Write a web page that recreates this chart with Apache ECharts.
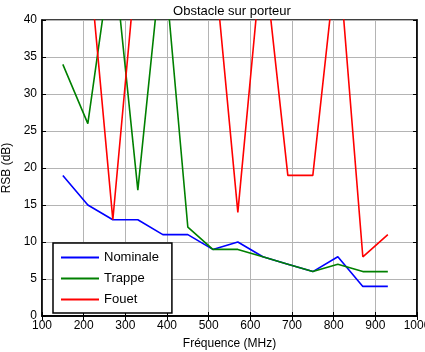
<!DOCTYPE html>
<html><head><meta charset="utf-8">
<script src="https://cdn.jsdelivr.net/npm/echarts@6/dist/echarts.min.js"></script>
<style>html,body{margin:0;padding:0;background:#fff}#c{width:425px;height:352px}</style>
</head><body><div id="c"></div>
<script>
var freqs = [150, 210, 270, 330, 390, 450, 510, 570, 630, 690, 750, 810, 870, 930];
var nominale = [19, 15, 13, 13, 11, 11, 9, 10, 8, 7, 6, 8, 4, 4];
var trappe = [34, 26, 50, 17, 50, 12, 9, 9, 8, 7, 6, 7, 6, 6];
var fouet = [50, 50, 13, 50, 50, 50, 50, 14, 50, 19, 19, 50, 8, 11];
var xTicks = [100, 200, 300, 400, 500, 600, 700, 800, 900, 1000];
var yTicks = [0, 5, 10, 15, 20, 25, 30, 35, 40];

function pairs(v){ return freqs.map(function(f,i){ return [f, v[i]]; }); }
var font = 'Liberation Sans, Arial, sans-serif';
var chart = echarts.init(document.getElementById('c'), null, {renderer:'canvas'});
var gridLine = {show:true, lineStyle:{color:'#b4b4b4', width:1}};
chart.setOption({
  animation:false,
  backgroundColor:'#fff',
  title:{text:'Obstacle sur porteur', left:227, textAlign:'center', top:0,
    textStyle:{fontFamily:font, fontSize:13, fontWeight:'normal', color:'#000'}},
  grid:{left:42, right:8, top:20, bottom:36, containLabel:false, outerBoundsMode:'none',
    show:true, borderColor:'#000', borderWidth:1.5},
  legend:{orient:'vertical', left:53, top:243, icon:'rect', itemWidth:38, itemHeight:2, itemGap:8,
    padding:[8,13,7,8], borderColor:'#000', borderWidth:1.5, backgroundColor:'#fff',
    textStyle:{fontFamily:font, fontSize:13, color:'#000'},
    data:['Nominale','Trappe','Fouet']},
  xAxis:[{type:'value', min:xTicks[0], max:xTicks[xTicks.length-1], interval:100,
    name:'Fréquence (MHz)', nameLocation:'middle', nameGap:22,
    nameTextStyle:{fontFamily:font, fontSize:12, color:'#000'},
    axisLine:{show:true, lineStyle:{color:'#000', width:1.5}},
    axisTick:{show:true, inside:true, length:4, lineStyle:{color:'#000'}},
    axisLabel:{fontFamily:font, fontSize:12, color:'#000', margin:4, showMaxLabel:true,
      formatter:function(v){ return String(v); }},
    splitLine:gridLine},
   {type:'value', position:'top', min:100, max:1000, interval:100,
    axisLine:{show:true, lineStyle:{color:'#000', width:1.5}},
    axisTick:{show:true, inside:true, length:4, lineStyle:{color:'#000'}},
    axisLabel:{show:false}, splitLine:{show:false}}],
  yAxis:[{type:'value', min:yTicks[0], max:yTicks[yTicks.length-1], interval:5,
    name:'RSB (dB)', nameLocation:'middle', nameGap:21, nameRotate:90,
    nameTextStyle:{fontFamily:font, fontSize:12, color:'#000'},
    axisLine:{show:true, lineStyle:{color:'#000', width:1.5}},
    axisTick:{show:true, inside:true, length:4, lineStyle:{color:'#000'}},
    axisLabel:{fontFamily:font, fontSize:12, color:'#000', margin:5},
    splitLine:gridLine},
   {type:'value', position:'right', min:0, max:40, interval:5,
    axisLine:{show:true, lineStyle:{color:'#000', width:1.5}},
    axisTick:{show:true, inside:true, length:4, lineStyle:{color:'#000'}},
    axisLabel:{show:false}, splitLine:{show:false}}],
  series:[
    {name:'Nominale', type:'line', data:pairs(nominale), symbol:'none', clip:true,
     lineStyle:{color:'#0000ff', width:1.6}, itemStyle:{color:'#0000ff'}},
    {name:'Trappe', type:'line', data:pairs(trappe), symbol:'none', clip:true,
     lineStyle:{color:'#008000', width:1.6}, itemStyle:{color:'#008000'}},
    {name:'Fouet', type:'line', data:pairs(fouet), symbol:'none', clip:true,
     lineStyle:{color:'#ff0000', width:1.6}, itemStyle:{color:'#ff0000'}}
  ]
});
</script></body></html>
